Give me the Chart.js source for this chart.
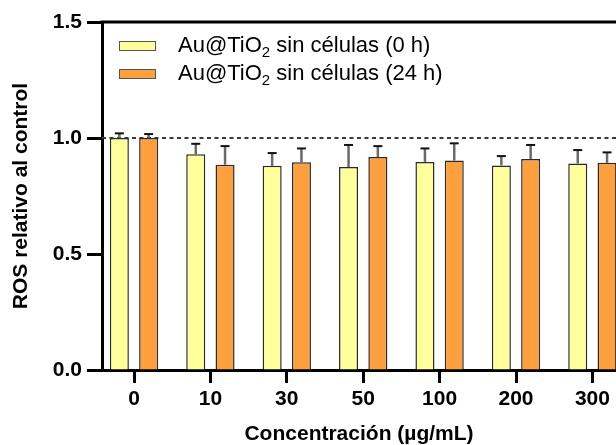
<!DOCTYPE html>
<html><head><meta charset="utf-8">
<script src="https://cdn.jsdelivr.net/npm/chart.js@4.4.1/dist/chart.umd.min.js"></script>
<style>html,body{margin:0;padding:0;background:#fff;overflow:hidden}#wrap{width:616px;height:445px}</style>
</head><body><div id="wrap"><canvas id="c" width="616" height="445"></canvas></div>
<script>
// ---- data ----
const categories = ['0', '10', '30', '50', '100', '200', '300'];
const mean0h  = [1.000, 0.930, 0.880, 0.875, 0.897, 0.882, 0.890];
const sd0h    = [0.020, 0.045, 0.055, 0.095, 0.058, 0.040, 0.058];
const mean24h = [1.000, 0.885, 0.895, 0.918, 0.903, 0.910, 0.893];
const sd24h   = [0.017, 0.080, 0.060, 0.047, 0.074, 0.060, 0.045];
const yTickValues = [0, 0.5, 1.0, 1.5];
const seriesLabels = ['Au@TiO₂ sin células (0 h)', 'Au@TiO₂ sin células (24 h)'];
const referenceLevel = 1.0;

// ---- layout / style ----
const F = "'Liberation Sans', Arial, sans-serif";
const AXIS_PX = 102, FIRST_PX = 134, STEP_PX = 76.4, W = 616;
const xMin = -(FIRST_PX - AXIS_PX) / STEP_PX;
const xMax = xMin + (W - AXIS_PX) / STEP_PX;

function drawLabel(ctx, text, x, y, size) {
  const parts = text.split('₂');
  let cx = x;
  parts.forEach((p, k) => {
    ctx.font = size + 'px ' + F;
    ctx.fillText(p, cx, y);
    cx += ctx.measureText(p).width;
    if (k < parts.length - 1) {
      ctx.font = Math.round(size * 0.68) + 'px ' + F;
      ctx.fillText('2', cx, y + size * 0.26);
      cx += ctx.measureText('2').width;
    }
  });
}

const decor = {
  id: 'decor',
  beforeDatasetsDraw(chart) {
    const {ctx, chartArea: a, scales: {y}} = chart;
    const py = y.getPixelForValue(referenceLevel);
    ctx.save();
    ctx.strokeStyle = '#3a3a3a';
    ctx.lineWidth = 2;
    ctx.setLineDash([4, 3.5]);
    ctx.beginPath(); ctx.moveTo(a.left, py); ctx.lineTo(a.right, py); ctx.stroke();
    ctx.restore();
  },
  afterDatasetsDraw(chart) {
    const {ctx, chartArea: a, scales: {y}} = chart;
    ctx.save();
    chart.data.datasets.forEach((ds, di) => {
      const meta = chart.getDatasetMeta(di);
      meta.data.forEach((bar, j) => {
        const top = y.getPixelForValue(ds.data[j].y + ds.sd[j]);
        ctx.strokeStyle = '#6a6a6a'; ctx.lineWidth = 2.5;
        ctx.beginPath(); ctx.moveTo(bar.x, bar.y); ctx.lineTo(bar.x, top); ctx.stroke();
        ctx.strokeStyle = '#111'; ctx.lineWidth = 2;
        ctx.beginPath(); ctx.moveTo(bar.x - 4.5, top); ctx.lineTo(bar.x + 4.5, top); ctx.stroke();
      });
    });
    // top frame line
    ctx.strokeStyle = '#000'; ctx.lineWidth = 3;
    ctx.beginPath(); ctx.moveTo(a.left - 1.5, a.top); ctx.lineTo(a.right, a.top); ctx.stroke();
    // legend
    const bx = a.left + 17, by = a.top + 19, rowH = 28, bw = 37, bh = 10;
    chart.data.datasets.forEach((ds, i) => {
      const yy = by + i * rowH;
      ctx.fillStyle = ds.backgroundColor;
      ctx.fillRect(bx, yy, bw, bh);
      ctx.strokeStyle = '#555'; ctx.lineWidth = 1;
      ctx.strokeRect(bx + 0.5, yy + 0.5, bw - 1, bh - 1);
      ctx.fillStyle = '#000';
      ctx.textBaseline = 'alphabetic';
      ctx.textAlign = 'left';
      drawLabel(ctx, ds.label, a.left + 76, yy + bh + 0.5, 22);
    });
    ctx.restore();
  }
};

new Chart(document.getElementById('c'), {
  type: 'bar',
  data: {
    datasets: [
      { label: seriesLabels[0], data: categories.map((c, i) => ({x: i, y: mean0h[i]})), sd: sd0h,
        backgroundColor: '#FFFF9C', borderColor: '#2b2b2b', borderWidth: 1.5 },
      { label: seriesLabels[1], data: categories.map((c, i) => ({x: i, y: mean24h[i]})), sd: sd24h,
        backgroundColor: '#FFA03F', borderColor: '#2b2b2b', borderWidth: 1.5 }
    ]
  },
  options: {
    responsive: false,
    animation: false,
    devicePixelRatio: 1,
    categoryPercentage: 0.767,
    barPercentage: 0.65,
    layout: { padding: { top: 22, left: 0, right: 0, bottom: 0 } },
    plugins: { legend: { display: false }, tooltip: { enabled: false } },
    scales: {
      x: {
        type: 'linear', bounds: 'data', min: xMin, max: xMax, offset: false,
        afterBuildTicks: s => { s.ticks = categories.map((c, i) => ({ value: i })); },
        afterFit: s => { s.height = 75; },
        ticks: { callback: v => categories[v] ?? '', font: { family: F, size: 21, weight: 'bold' }, color: '#000',
                 padding: 4, maxRotation: 0, autoSkip: false },
        grid: { display: true, offset: false, drawOnChartArea: false, drawTicks: true, tickLength: 13, tickWidth: 3, tickColor: '#000' },
        border: { display: true, color: '#000', width: 3 },
        title: { display: true, text: 'Concentración (µg/mL)', color: '#000',
                 font: { family: F, size: 21, weight: 'bold', lineHeight: 1 }, padding: { top: 0, bottom: 0 } }
      },
      y: {
        bounds: 'data', min: 0, max: 1.5,
        afterBuildTicks: s => { s.ticks = yTickValues.map(v => ({ value: v })); },
        afterFit: s => { s.width = AXIS_PX; },
        ticks: { callback: v => Number(v).toFixed(1), font: { family: F, size: 21, weight: 'bold' }, color: '#000', padding: 5 },
        grid: { display: true, drawOnChartArea: false, drawTicks: true, tickLength: 15, tickWidth: 3, tickColor: '#000' },
        border: { display: true, color: '#000', width: 3 },
        title: { display: true, text: 'ROS relativo al control', color: '#000',
                 font: { family: F, size: 21, weight: 'bold', lineHeight: 1 }, padding: { top: 11, bottom: 0 } }
      }
    }
  },
  plugins: [decor]
});
</script></body></html>
